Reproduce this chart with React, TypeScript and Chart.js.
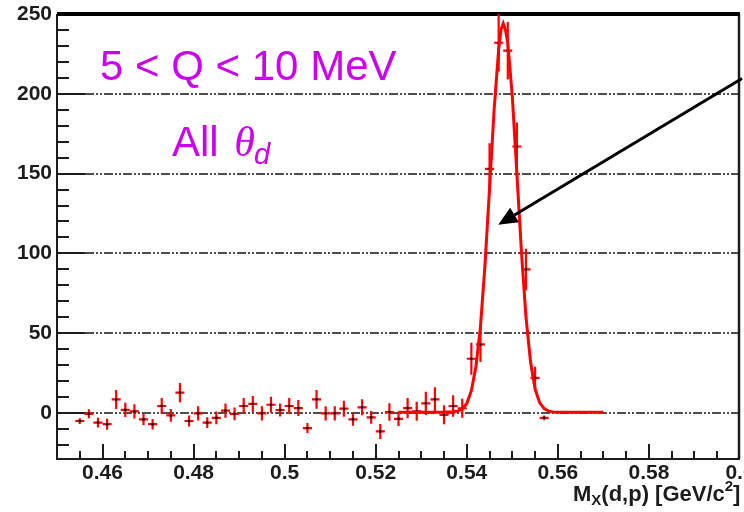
import React, { useEffect, useRef } from "react";
import { Chart, registerables } from "chart.js";

Chart.register(...registerables);

// ---------- data ----------
const binCenters = [
  0.455, 0.457, 0.459, 0.461, 0.463, 0.465, 0.467, 0.469, 0.471, 0.473,
  0.475, 0.477, 0.479, 0.481, 0.483, 0.485, 0.487, 0.489, 0.491, 0.493,
  0.495, 0.497, 0.499, 0.501, 0.503, 0.505, 0.507, 0.509, 0.511, 0.513,
  0.515, 0.517, 0.519, 0.521, 0.523, 0.525, 0.527, 0.529, 0.531, 0.533,
  0.535, 0.537, 0.539, 0.541, 0.543, 0.545, 0.547, 0.549, 0.551, 0.553,
  0.555, 0.557,
];
const counts = [
  -5, -0.5, -6, -7, 8.5, 2, 1, -4, -7, 4.4,
  -1.5, 12.8, -5, -0.2, -6, -3, 1.5, -0.5, 4.4, 5.7,
  -0.2, 5.2, 1.9, 4.4, 3.1, -9.4, 8.6, -0.2, -0.2, 2.7,
  -4, 3.6, -2.7, -11.5, 0.6, -3.6, 3.1, 1.1, 6.1, 8.6,
  -1.1, 4.4, 3, 34, 43, 153, 232, 227, 167, 90,
  22, -3,
];
const countErrors = [
  1.8, 2.8, 3, 3.4, 5.9, 4.5, 4.5, 3.5, 3.3, 5,
  4, 6, 3.5, 4.5, 3.3, 4, 4.5, 4, 5, 5,
  4.5, 5, 4, 5, 5, 3.1, 5.9, 4.5, 4.5, 5,
  4, 5, 4, 4.7, 5.5, 4.5, 6.3, 6, 7.3, 7.6,
  6, 6.8, 6, 10, 11, 16, 18, 18, 15, 13,
  7, 1.5,
];
const binHalfWidth = 0.001;

const fitX = [
  0.525, 0.53, 0.535, 0.537, 0.538, 0.539, 0.54, 0.541, 0.542, 0.543,
  0.544, 0.545, 0.546, 0.547, 0.5475, 0.548, 0.5485, 0.549, 0.55, 0.551,
  0.552, 0.553, 0.554, 0.555, 0.556, 0.557, 0.558, 0.559, 0.56, 0.565,
  0.57,
];
const fitY = [
  0.5, 0.5, 0.6, 0.8, 1.2, 2.5, 6, 14, 29, 54,
  93, 141, 190, 228, 240, 244, 240, 232, 198, 150,
  101, 60, 32, 15, 6.5, 2.8, 1.2, 0.7, 0.5, 0.5,
  0.5,
];

const xTickValues = [0.46, 0.48, 0.5, 0.52, 0.54, 0.56, 0.58, 0.6];
const xTickLabels = ["0.46", "0.48", "0.5", "0.52", "0.54", "0.56", "0.58", "0.6"];
const yTickValues = [0, 50, 100, 150, 200, 250];
const yGridValues = [0, 50, 100, 150, 200];

const arrowTail = { x: 0.6, y: 209 };
const arrowTip = { x: 0.5469, y: 118 };

const titleLine1 = "5 < Q < 10 MeV";
const titleLine2 = "All ";

// ---------- styles ----------
const SANS = '"Liberation Sans", Arial, Helvetica, sans-serif';
const SERIF = '"Liberation Serif", "Times New Roman", serif';
const MAGENTA = "#cc00f0";
const RED = "#ff0000";
const INK = "#1c1c1c";

export default function App() {
  const ref = useRef<HTMLCanvasElement>(null);

  useEffect(() => {
    const canvas = ref.current;
    if (!canvas) return;

    const decor = {
      id: "rootDecor",
      beforeDatasetsDraw(chart: any) {
        const { ctx, chartArea: a, scales } = chart;
        const xs = scales.x;
        const ys = scales.y;
        ctx.save();

        // dash-dot horizontal grid
        ctx.strokeStyle = "#151515";
        ctx.lineWidth = 1.6;
        ctx.setLineDash([9, 2, 2, 2, 2, 2]);
        for (const v of yGridValues) {
          const py = Math.round(ys.getPixelForValue(v));
          ctx.beginPath();
          ctx.moveTo(a.left + 28, py);
          ctx.lineTo(a.right, py);
          ctx.stroke();
        }
        ctx.setLineDash([]);

        // y ticks (inside)
        ctx.strokeStyle = INK;
        ctx.lineWidth = 2;
        for (let i = -2; i <= 24; i++) {
          const v = i * 10;
          const py = Math.round(ys.getPixelForValue(v));
          const len = i % 5 === 0 ? 28 : 12;
          ctx.beginPath();
          ctx.moveTo(a.left, py);
          ctx.lineTo(a.left + len, py);
          ctx.stroke();
        }
        // x ticks (inside)
        for (let i = 91; i <= 119; i++) {
          const v = i * 0.005;
          const px = Math.round(xs.getPixelForValue(v));
          const len = i % 4 === 0 ? 15 : 8;
          ctx.beginPath();
          ctx.moveTo(px, a.bottom);
          ctx.lineTo(px, a.bottom - len);
          ctx.stroke();
        }

        // frame
        ctx.lineWidth = 2;
        ctx.beginPath();
        ctx.moveTo(a.left, a.top);
        ctx.lineTo(a.left, a.bottom);
        ctx.lineTo(a.right, a.bottom);
        ctx.stroke();
        ctx.lineWidth = 2.5;
        ctx.beginPath();
        ctx.moveTo(a.right - 1, a.top);
        ctx.lineTo(a.right - 1, a.bottom);
        ctx.stroke();
        ctx.strokeStyle = "#000";
        ctx.lineWidth = 4;
        ctx.beginPath();
        ctx.moveTo(a.left, a.top);
        ctx.lineTo(a.right, a.top);
        ctx.stroke();

        // error bars
        ctx.beginPath();
        ctx.rect(a.left, a.top, a.right - a.left, a.bottom - a.top);
        ctx.clip();
        ctx.strokeStyle = RED;
        ctx.lineWidth = 2.2;
        binCenters.forEach((x, i) => {
          const px = xs.getPixelForValue(x);
          const py = ys.getPixelForValue(counts[i]);
          const x0 = xs.getPixelForValue(x - binHalfWidth);
          const x1 = xs.getPixelForValue(x + binHalfWidth);
          const y0 = ys.getPixelForValue(counts[i] - countErrors[i]);
          const y1 = ys.getPixelForValue(counts[i] + countErrors[i]);
          ctx.beginPath();
          ctx.moveTo(x0, py);
          ctx.lineTo(x1, py);
          ctx.moveTo(px, y0);
          ctx.lineTo(px, y1);
          ctx.stroke();
        });
        ctx.restore();
      },
      afterDraw(chart: any) {
        const { ctx, chartArea: a, scales } = chart;
        const xs = scales.x;
        const ys = scales.y;
        ctx.save();

        // arrow
        const tx = xs.getPixelForValue(arrowTail.x) + 2;
        const ty = ys.getPixelForValue(arrowTail.y) - 1;
        const hx = xs.getPixelForValue(arrowTip.x);
        const hy = ys.getPixelForValue(arrowTip.y);
        const ang = Math.atan2(hy - ty, hx - tx);
        const headLen = 19;
        const headHalf = 8.5;
        const bx = hx - headLen * Math.cos(ang);
        const by = hy - headLen * Math.sin(ang);
        ctx.strokeStyle = "#000";
        ctx.fillStyle = "#000";
        ctx.lineWidth = 3;
        ctx.beginPath();
        ctx.moveTo(tx, ty);
        ctx.lineTo(bx, by);
        ctx.stroke();
        ctx.beginPath();
        ctx.moveTo(hx, hy);
        ctx.lineTo(bx + headHalf * Math.sin(ang), by - headHalf * Math.cos(ang));
        ctx.lineTo(bx - headHalf * Math.sin(ang), by + headHalf * Math.cos(ang));
        ctx.closePath();
        ctx.fill();

        // annotation texts
        ctx.fillStyle = MAGENTA;
        ctx.textBaseline = "alphabetic";
        ctx.textAlign = "left";
        ctx.font = `42px ${SANS}`;
        ctx.fillText(titleLine1, a.left + 43, a.top + 66);
        const l2x = a.left + 115;
        const l2y = a.top + 142;
        ctx.fillText(titleLine2, l2x, l2y);
        const w2 = ctx.measureText(titleLine2).width;
        ctx.font = `italic 42px ${SERIF}`;
        ctx.fillText("\u03b8", l2x + w2 + 4, l2y);
        const wt = ctx.measureText("\u03b8").width;
        ctx.font = `italic 29px ${SANS}`;
        ctx.fillText("d", l2x + w2 + 4 + wt - 1, l2y + 8);

        // x-axis title  M_X(d,p) [GeV/c^2]
        ctx.fillStyle = INK;
        let x = 573;
        const by0 = 501;
        const put = (s: string, font: string, dy: number) => {
          ctx.font = font;
          ctx.fillText(s, x, by0 + dy);
          x += ctx.measureText(s).width;
        };
        put("M", `bold 22px ${SANS}`, 0);
        put("X", `bold 15px ${SANS}`, 4);
        put("(d,p) [GeV/c", `bold 22px ${SANS}`, 0);
        put("2", `bold 15px ${SANS}`, -10);
        put("]", `bold 22px ${SANS}`, 0);
        ctx.restore();
      },
    };

    const chart = new Chart(canvas, {
      type: "scatter",
      data: {
        datasets: [
          {
            type: "line",
            label: "fit",
            data: fitX.map((x, i) => ({ x, y: fitY[i] })),
            borderColor: RED,
            borderWidth: 3,
            pointRadius: 0,
            tension: 0,
            fill: false,
          },
          {
            type: "scatter",
            label: "data",
            data: binCenters.map((x, i) => ({ x, y: counts[i] })),
            pointRadius: 1.3,
            pointBackgroundColor: "#000",
            pointBorderWidth: 0,
          },
        ],
      } as any,
      options: {
        animation: false,
        responsive: false,
        devicePixelRatio: 1,
        layout: { padding: { top: 14, right: 1, left: 0, bottom: 0 } },
        plugins: {
          legend: { display: false },
          tooltip: { enabled: false },
          title: { display: false },
        },
        scales: {
          x: {
            type: "linear",
            min: 0.45,
            max: 0.6,
            grid: { display: false, drawTicks: false },
            border: { display: false },
            ticks: {
              font: { family: SANS, size: 21, weight: "bold" },
              color: INK,
              padding: 2,
              maxRotation: 0,
              autoSkip: false,
              callback: (v: any) => {
                const idx = xTickValues.findIndex((t) => Math.abs(t - v) < 1e-9);
                return idx >= 0 ? xTickLabels[idx] : "";
              },
            },
            afterBuildTicks: (s: any) => {
              s.ticks = xTickValues.map((v) => ({ value: v }));
            },
            afterFit: (s: any) => {
              s.height = 53;
              s.paddingLeft = 0;
              s.paddingRight = 0;
            },
          },
          y: {
            type: "linear",
            min: -28.8,
            max: 250,
            grid: { display: false, drawTicks: false },
            border: { display: false },
            ticks: {
              font: { family: SANS, size: 21, weight: "bold" },
              color: INK,
              padding: 5,
              callback: (v: any) => String(v),
            },
            afterBuildTicks: (s: any) => {
              s.ticks = yTickValues.map((v) => ({ value: v }));
            },
            afterFit: (s: any) => {
              s.width = 57;
              s.paddingTop = 0;
              s.paddingBottom = 0;
            },
          },
        },
      } as any,
      plugins: [decor],
    });

    return () => chart.destroy();
  }, []);

  return (
    <div
      style={{
        position: "fixed",
        left: 0,
        top: 0,
        width: 744,
        height: 512,
        background: "#fff",
        overflow: "hidden",
      }}
    >
      <canvas ref={ref} width={744} height={512} style={{ display: "block" }} />
    </div>
  );
}
